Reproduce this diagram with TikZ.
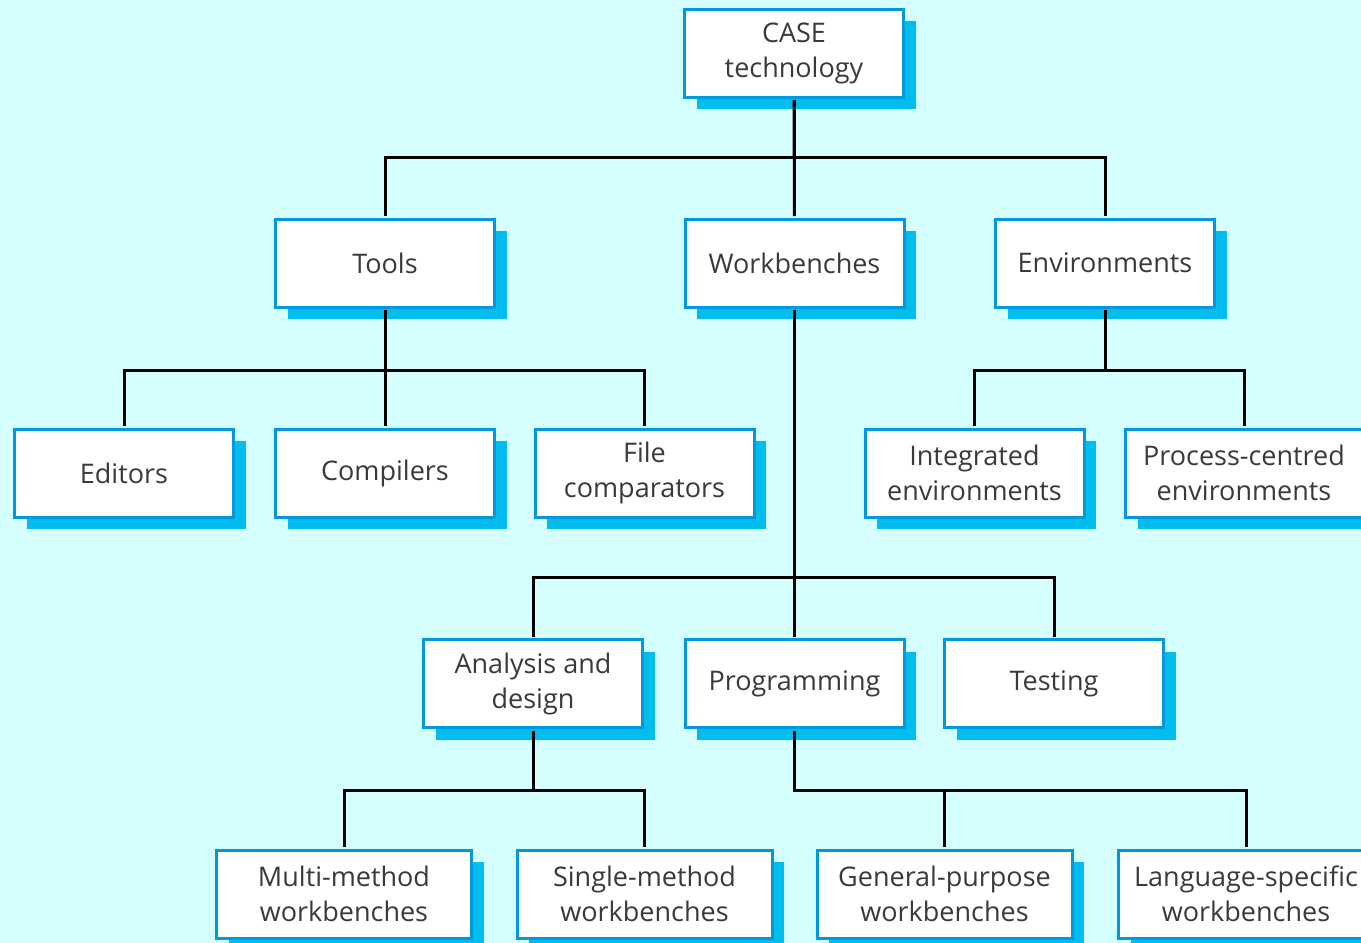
\documentclass[tikz,border=0pt]{standalone}
\usepackage{fontspec}
\setmainfont{Open Sans}
\usetikzlibrary{shadows}
\definecolor{bgcyan}{HTML}{D5FFFF}
\definecolor{boxblue}{HTML}{0099DD}
\definecolor{shadowblue}{HTML}{00BDEE}
\definecolor{textgray}{HTML}{3A3A3A}
\begin{document}
\begin{tikzpicture}[x=0.5pt,y=-0.5pt,
  box/.style={draw=boxblue, line width=1.5pt, fill=white, minimum width=109.5pt,
    minimum height=44pt, align=center, inner sep=0pt,
    font=\fontsize{13.5}{17.5}\selectfont, text=textgray,
    drop shadow={shadow xshift=6pt, shadow yshift=-6pt, fill=shadowblue, opacity=1}},
  wide/.style={box, minimum width=127.5pt},
  link/.style={draw=black, line width=1.5pt, shorten <=0.75pt, shorten >=0.75pt}]
\fill[bgcyan] (0,0) rectangle (1361,943);
\useasboundingbox (0,0) rectangle (1361,943);

\node[box] (case) at (794,53) {CASE\\technology};
\node[box] (tools) at (385,263) {Tools};
\node[box] (wb) at (794.5,263) {Workbenches};
\node[box] (env) at (1105,263) {Environments};
\node[box] (ed) at (124,473) {Editors};
\node[box] (comp) at (385,473) {Compilers};
\node[box] (fc) at (644.5,473) {File\\comparators};
\node[box] (ie) at (974.5,473) {Integrated\\environments};
\node[box, minimum width=118.5pt] (pce) at (1244,473) {Process-centred\\environments};
\node[box] (ad) at (533,683.5) {Analysis and\\design};
\node[box] (prog) at (794.5,683.5) {Programming};
\node[box] (test) at (1054,683.5) {Testing};
\node[wide] (mm) at (344,894) {Multi-method\\workbenches};
\node[wide] (sm) at (644.5,894) {Single-method\\workbenches};
\node[wide] (gp) at (944.5,894) {General-purpose\\workbenches};
\node[wide] (ls) at (1246,894) {Language-specific\\workbenches};

\coordinate (j1) at (794,157);
\coordinate (j2) at (385,370);
\coordinate (j3) at (1105,370);
\coordinate (j4) at (794.5,577);
\coordinate (j5) at (533,790);
\coordinate (j6) at (794.5,790);

\draw[link] (case.south) -- (j1) -| (tools.north);
\draw[link] (case.south) -- (j1) -| (env.north);
\draw[link] (case.south) -- (wb.north);

\draw[link] (tools.south) -- (j2) -| (ed.north);
\draw[link] (tools.south) -- (j2) -| (fc.north);
\draw[link] (tools.south) -- (comp.north);

\draw[link] (env.south) -- (j3) -| (ie.north);
\draw[link] (env.south) -- (j3) -| (pce.north);

\draw[link] (wb.south) -- (j4) -| (ad.north);
\draw[link] (wb.south) -- (j4) -| (test.north);
\draw[link] (wb.south) -- (prog.north);

\draw[link] (ad.south) -- (j5) -| (mm.north);
\draw[link] (ad.south) -- (j5) -| (sm.north);

\draw[link] (prog.south) -- (j6) -| (gp.north);
\draw[link] (prog.south) -- (j6) -| (ls.north);
\end{tikzpicture}
\end{document}
